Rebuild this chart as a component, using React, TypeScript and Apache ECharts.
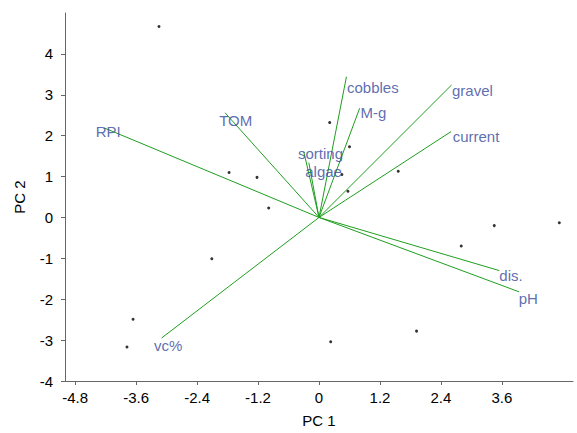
import React, { useEffect, useRef } from "react";
import * as echarts from "echarts";

// Site scores (PC1, PC2)
const siteX = [-3.15, -1.77, -1.22, -0.99, -2.11, -3.66, -3.78, 0.21, 0.6, 0.45, 0.57, 1.56, 3.45, 4.73, 2.8, 0.23, 1.92];
const siteY = [4.67, 1.1, 0.98, 0.23, -1.01, -2.49, -3.17, 2.32, 1.73, 1.05, 0.64, 1.13, -0.2, -0.13, -0.7, -3.04, -2.78];

// Variable vectors
const varNames = ["RPI", "TOM", "sorting", "algae", "cobbles", "M-g", "gravel", "current", "dis.", "pH", "vc%"];
const varX = [-4.23, -1.85, -0.3, -0.2, 0.54, 0.8, 2.61, 2.6, 3.55, 3.94, -3.1];
const varY = [2.19, 2.56, 1.61, 1.34, 3.44, 2.67, 3.24, 2.1, -1.3, -1.82, -2.95];
// Variable label positions
const labelX = [-4.15, -1.64, 0.03, 0.09, 1.06, 1.07, 3.02, 3.09, 3.78, 4.12, -2.97];
const labelY = [2.1, 2.38, 1.56, 1.12, 3.19, 2.57, 3.11, 1.98, -1.42, -1.98, -3.14];

const xTicks = [-4.8, -3.6, -2.4, -1.2, 0, 1.2, 2.4, 3.6];
const yTicks = [-4, -3, -2, -1, 0, 1, 2, 3, 4];

const FONT = "Liberation Sans, Arial, Helvetica, sans-serif";

export default function App() {
  const ref = useRef<HTMLDivElement>(null);
  useEffect(() => {
    if (!ref.current) return;
    const chart = echarts.init(ref.current, null, { renderer: "svg" });
    const axisCommon = {
      type: "value" as const,
      splitLine: { show: false },
      nameLocation: "middle" as const,
      nameTextStyle: { color: "#000", fontSize: 15, fontFamily: FONT },
      axisLine: { show: true, onZero: false, lineStyle: { color: "#666", width: 1 } },
    };
    chart.setOption({
      animation: false,
      backgroundColor: "#fff",
      grid: { left: 65, right: 4, top: 13, bottom: 50, containLabel: false },
      xAxis: {
        ...axisCommon,
        min: -5,
        max: 5,
        name: "PC 1",
        nameGap: 32,
        axisTick: { show: true, length: 4, customValues: xTicks, lineStyle: { color: "#666" } },
        axisLabel: { customValues: xTicks, color: "#000", fontSize: 15, fontFamily: FONT, margin: 9 },
      },
      yAxis: {
        ...axisCommon,
        min: -4,
        max: 5,
        name: "PC 2",
        nameGap: 38,
        axisTick: { show: true, length: 4, customValues: yTicks, lineStyle: { color: "#666" } },
        axisLabel: { customValues: yTicks, color: "#000", fontSize: 15, fontFamily: FONT, margin: 12 },
      },
      series: [
        {
          type: "lines",
          coordinateSystem: "cartesian2d",
          lineStyle: { color: "#1f9e1f", width: 1, opacity: 1 },
          data: varX.map((x, i) => ({ coords: [[0, 0], [x, varY[i]]] })),
          silent: true,
        },
        {
          type: "scatter",
          symbol: "circle",
          symbolSize: 3,
          itemStyle: { color: "#000" },
          data: siteX.map((x, i) => [x, siteY[i]]),
        },
        {
          type: "scatter",
          symbolSize: 0,
          data: labelX.map((x, i) => ({ value: [x, labelY[i]], name: varNames[i] })),
          label: {
            show: true,
            position: "inside",
            formatter: (p: any) => p.name,
            color: "#33489c",
            fontSize: 15,
            fontFamily: FONT,
            align: "center",
            verticalAlign: "middle",
          },
          itemStyle: { color: "transparent" },
        },
      ],
    });
    return () => chart.dispose();
  }, []);
  return (
    <div
      ref={ref}
      style={{ position: "fixed", left: 0, top: 0, width: 577, height: 433, background: "#fff" }}
    />
  );
}
